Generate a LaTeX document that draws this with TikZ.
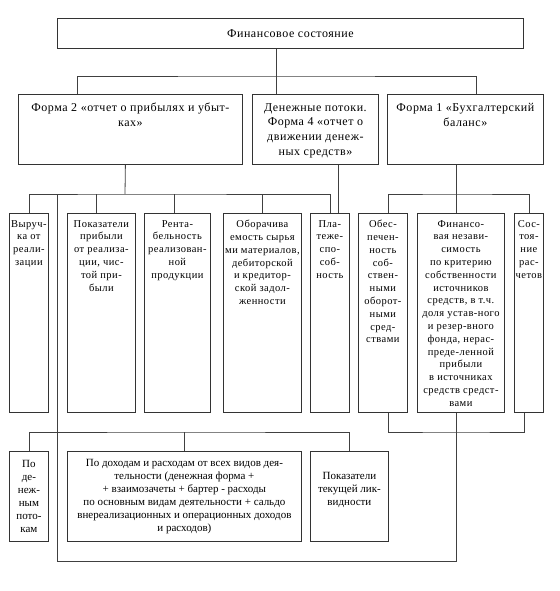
\documentclass[tikz,border=0pt]{standalone}
\usepackage{fontspec}
\setmainfont{Liberation Serif}
\newfontfamily\spaced[LetterSpace=4.5]{Liberation Serif}
\usetikzlibrary{positioning}

\begin{document}
\begin{tikzpicture}[x=1pt, y=-1pt,
        % рамки блоков
        box/.style={
            rectangle,
            draw=black!80,
            line width=0.8pt,
            inner sep=0pt,
            anchor=north west
        },
        % подписи внутри блоков
        head/.style={
            align=center,
            inner sep=0pt,
            anchor=north,
            font=\spaced\fontsize{12}{14.7}\selectfont
        },
        item/.style={
            align=center,
            inner sep=0pt,
            anchor=north,
            font=\spaced\fontsize{10.5}{12.8}\selectfont
        },
        low/.style={
            align=center,
            inner sep=0pt,
            font=\fontsize{11}{13}\selectfont
        },
        % соединительные линии
        link/.style={
            draw=black!75,
            line width=0.8pt
        }
    ]

        \useasboundingbox (0,0) rectangle (559,591);

        % Верхний блок
        \node[box, minimum width=466, minimum height=30] (top) at (57,18) {};
        \node[low, font=\spaced\fontsize{12}{14}\selectfont] (topt) at (top.center) {Финансовое состояние};

        % Формы отчетности
        \node[box, minimum width=224, minimum height=70] (f2) at (18,94) {};
        \node[box, minimum width=126, minimum height=70] (den) at (252,94) {};
        \node[box, minimum width=156, minimum height=70] (f1) at (387,94) {};

        \node[head] (f2t) at ([yshift=-9pt]f2.north) {Форма 2 «отчет о прибылях и убыт-\\ках»};
        \node[head] (dent) at ([yshift=-9pt]den.north) {Денежные потоки.\\Форма 4 «отчет о\\движении денеж-\\ных средств»};
        \node[head] (f1t) at ([yshift=-9pt]f1.north) {Форма 1 «Бухгалтерский\\баланс»};

        % Показатели
        \node[box, minimum width=39, minimum height=199] (r1) at (9,213) {};
        \node[box, minimum width=68, minimum height=199] (r2) at (67,213) {};
        \node[box, minimum width=66, minimum height=199] (r3) at (144,213) {};
        \node[box, minimum width=78, minimum height=199] (r4) at (223,213) {};
        \node[box, minimum width=39, minimum height=199] (r5) at (310,213) {};
        \node[box, minimum width=49, minimum height=199] (r6) at (358,213) {};
        \node[box, minimum width=87, minimum height=199] (r7) at (417,213) {};
        \node[box, minimum width=29, minimum height=199] (r8) at (514,213) {};

        \node[item] (r1t) at ([yshift=-7pt]r1.north) {Выруч-\\ка от\\реали-\\зации};
        \node[item] (r2t) at ([yshift=-7pt]r2.north) {Показатели\\прибыли\\от реализа-\\ции, чис-\\той при-\\были};
        \node[item] (r3t) at ([yshift=-7pt]r3.north) {Рента-\\бельность\\реализован-\\ной\\продукции};
        \node[item] (r4t) at ([yshift=-7pt]r4.north) {Оборачива\\емость сырья\\ми материалов,\\дебиторской\\и кредитор-\\ской задол-\\женности};
        \node[item] (r5t) at ([yshift=-7pt]r5.north) {Пла-\\теже-\\спо-\\соб-\\ность};
        \node[item] (r6t) at ([yshift=-7pt]r6.north) {Обес-\\печен-\\ность\\соб-\\ствен-\\ными\\оборот-\\ными\\сред-\\ствами};
        \node[item] (r7t) at ([yshift=-7pt]r7.north) {Финансо-\\вая незави-\\симость\\по критерию\\собственности\\источников\\средств, в т.ч.\\доля устав-ного\\и резер-вного\\фонда, нерас-\\преде-ленной\\прибыли\\в источниках\\средств средст-\\вами};
        \node[item] (r8t) at ([yshift=-7pt]r8.north) {Сос-\\тоя-\\ние\\рас-\\четов};

        % Нижний ряд
        \node[box, minimum width=39, minimum height=90] (b1) at (9,451) {};
        \node[box, minimum width=234, minimum height=90] (b2) at (67,451) {};
        \node[box, minimum width=78, minimum height=90] (b3) at (310,451) {};

        \node[low] (b1t) at (b1.center) {По\\де-\\неж-\\ным\\пото-\\кам};
        \node[low] (b2t) at (b2.center) {По доходам и расходам от всех видов дея-\\тельности (денежная форма +\\+ взаимозачеты + бартер - расходы\\по основным видам деятельности + сальдо\\внереализационных и операционных доходов\\и расходов)};
        \node[low] (b3t) at ([yshift=6pt]b3.center) {Показатели\\текущей лик-\\видности};

        % --- СВЯЗИ ---
        \coordinate (busA) at (276,76);
        \coordinate (busB) at (125,194);
        \coordinate (busC) at (456,194);
        \coordinate (busD) at (456,432);
        \coordinate (busE) at (183,432);
        \coordinate (loopL) at (57,561);

        % 1. Финансовое состояние -> формы
        \draw[link] ([xshift=-14pt]top.south) -- ([xshift=-14pt]top.south |- den.north);
        \draw[link] ([xshift=-53pt]f2.north) |- (busA) -| ([xshift=11pt]f1.north);

        % 2. Форма 2 -> показатели
        \draw[link] ([xshift=-5pt]f2.south) -- (busB);
        \draw[link] (r1.north) |- (busB) -| (r5.north);
        \draw[link] ([xshift=-5pt]r2.north) -- ([xshift=-5pt]r2.north |- busB);
        \draw[link] ([xshift=-3pt]r3.north) -- ([xshift=-3pt]r3.north |- busB);
        \draw[link] (r4.north) -- (r4.north |- busB);

        % 3. Форма 4 -> платежеспособность
        \draw[link] ([xshift=23pt]den.south) -- ([xshift=23pt]den.south |- r5.north);

        % 4. Форма 1 -> показатели баланса
        \draw[link] ([xshift=-9pt]f1.south) -- ([xshift=-9pt]f1.south |- r7.north);
        \draw[link] ([xshift=5pt]r6.north) |- (busC) -| (r8.north);
        \draw[link] ([xshift=5pt]r6.south) |- (busD) -| ([xshift=-5pt]r8.south);

        % 5. Обратная связь и нижний ряд
        \draw[link] ([xshift=-4.5pt]r7.south) |- (loopL) -- (loopL |- busB);
        \draw[link] (b1.north) |- (busE) -| (b3.north);
        \draw[link] (b2.north) -- (b2.north |- busE);

    \end{tikzpicture}
\end{document}
